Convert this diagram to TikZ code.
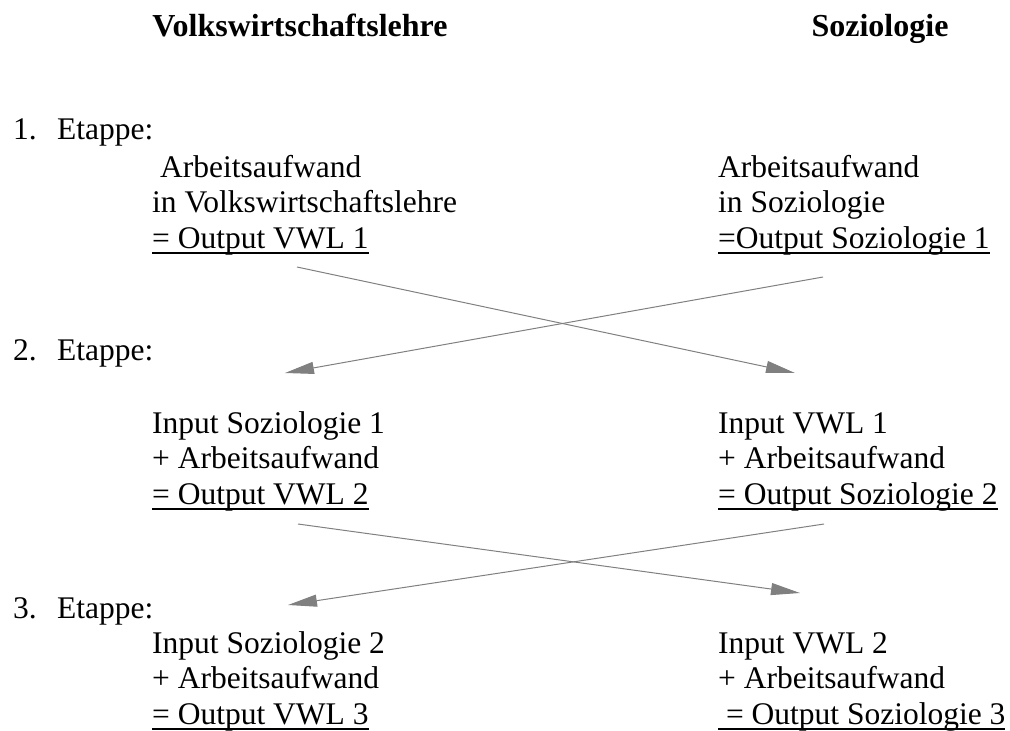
\documentclass[tikz,border=0pt]{standalone}
\usepackage{fontspec}
\setmainfont{Liberation Serif}
\usetikzlibrary{arrows.meta}
\newsavebox{\ulbox}
\newcommand{\ulined}[1]{\sbox{\ulbox}{#1}\rlap{\rule[-5.5pt]{\wd\ulbox}{1.4pt}}\usebox{\ulbox}}
\newcommand{\topstrut}{\rule{0pt}{24pt}}

\begin{document}
\begin{tikzpicture}[
	x=1pt, y=-1pt,
	head/.style={font=\fontsize{32}{38}\selectfont\bfseries, anchor=base, inner sep=0pt},
	stage/.style={font=\fontsize{31.5}{35.5}\selectfont, anchor=base west, inner sep=0pt},
	txt/.style={font=\fontsize{31.5}{35.5}\selectfont, align=left, anchor=north west, inner sep=0pt},
	>=stealth
	]
	
	\useasboundingbox (0,0) rectangle (1010,731);
	
	%-----------------------
	% Customizable heights
	%-----------------------
	\def\hhead{36}     % headings
	\def\hone{139}     % stage 1 label
	\def\bone{153}     % stage 1 blocks
	\def\htwo{360}     % stage 2 label
	\def\btwo{409}     % stage 2 blocks
	\def\hthree{618}   % stage 3 label
	\def\bthree{629}   % stage 3 blocks
	
	%-----------------------
	% Headings
	%-----------------------
	\node[head] (VWL) at (300,\hhead) {Volkswirtschaftslehre};
	\node[head] (SOZ) at (880,\hhead) {Soziologie};
	
	%-----------------------
	% Stage labels
	%-----------------------
	\node[stage] (E1) at (13,\hone) {\makebox[44pt][l]{1.}Etappe:};
	\node[stage] (E2) at (13,\htwo) {\makebox[44pt][l]{2.}Etappe:};
	\node[stage] (E3) at (13,\hthree) {\makebox[44pt][l]{3.}Etappe:};
	
	%-----------------------
	% Stage 1
	%-----------------------
	\node[txt] (V1) at (152,\bone) {\topstrut\ Arbeitsaufwand\\in Volkswirtschaftslehre\\\ulined{= Output VWL 1}};
	\node[txt] (S1) at (718,\bone) {\topstrut Arbeitsaufwand\\in Soziologie\\\ulined{=Output Soziologie 1}};
	
	%-----------------------
	% Stage 2
	%-----------------------
	\node[txt] (V2) at (152,\btwo) {\topstrut Input Soziologie 1\\+ Arbeitsaufwand\\\ulined{= Output VWL 2}};
	\node[txt] (S2) at (718,\btwo) {\topstrut Input VWL 1\\+ Arbeitsaufwand\\\ulined{= Output Soziologie 2}};
	
	%-----------------------
	% Stage 3
	%-----------------------
	\node[txt] (V3) at (152,\bthree) {\topstrut Input Soziologie 2\\+ Arbeitsaufwand\\\ulined{= Output VWL 3}};
	\node[txt] (S3) at (718,\bthree) {\topstrut Input VWL 2\\+ Arbeitsaufwand\\\ulined{\ = Output Soziologie 3}};
	
	%-----------------------
	% Connections (crossing hand-overs)
	%-----------------------
	\tikzset{connect/.style={-{Triangle[length=29pt,width=12pt]}, draw=gray, line width=1pt}}
	
	\coordinate (V1-out) at (297,267);
	\coordinate (S1-out) at (823,277);
	\coordinate (V2-in)  at (285,373);
	\coordinate (S2-in)  at (795,373);
	\coordinate (V2-out) at (298,524);
	\coordinate (S2-out) at (824,524);
	\coordinate (V3-in)  at (288,605);
	\coordinate (S3-in)  at (800,593);
	
	% stage 1 -> stage 2
	\draw[connect] (V1-out) -- (S2-in);
	\draw[connect] (S1-out) -- (V2-in);
	
	% stage 2 -> stage 3
	\draw[connect] (V2-out) -- (S3-in);
	\draw[connect] (S2-out) -- (V3-in);
	
\end{tikzpicture}
\end{document}
